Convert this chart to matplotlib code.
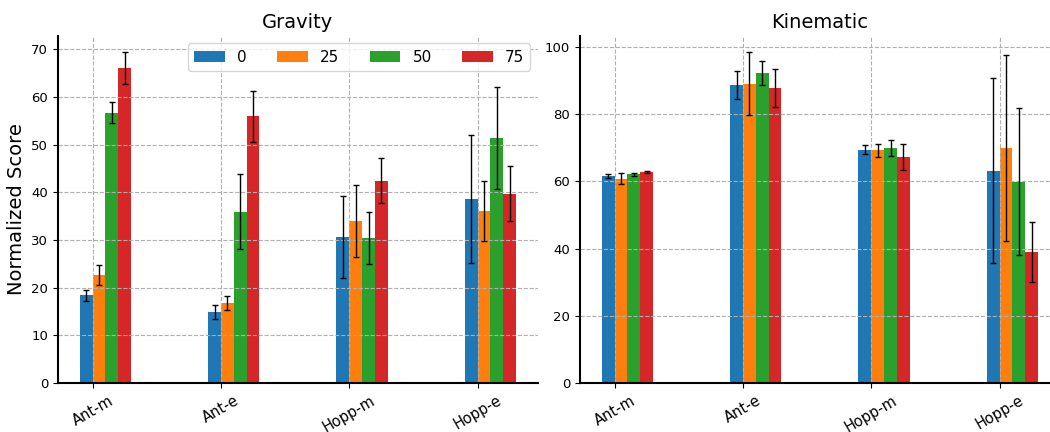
import numpy as np
import matplotlib
matplotlib.use("Agg")
import matplotlib.pyplot as plt

tasks = ["Ant-m", "Ant-e", "Hopp-m", "Hopp-e"]
levels = ["0", "25", "50", "75"]
colors = ["#1f77b4", "#ff7f0e", "#2ca02c", "#d62728"]

# rows = levels, cols = tasks
gravity_mean = [[18.4, 14.9, 30.6, 38.6],
                [22.7, 16.8, 34.0, 36.1],
                [56.7, 35.9, 30.4, 51.3],
                [66.0, 55.9, 42.4, 39.7]]
gravity_std = [[1.2, 1.45, 8.6, 13.35],
               [2.1, 1.5, 7.55, 6.35],
               [2.2, 7.85, 5.5, 10.7],
               [3.3, 5.3, 4.75, 5.75]]

kinematic_mean = [[61.6, 88.6, 69.3, 63.1],
                  [60.7, 88.9, 69.2, 69.9],
                  [62.0, 92.2, 69.9, 59.9],
                  [62.8, 87.7, 67.2, 39.0]]
kinematic_std = [[0.6, 4.2, 1.3, 27.4],
                 [1.6, 9.35, 1.95, 27.7],
                 [0.55, 3.5, 2.35, 21.85],
                 [0.35, 5.7, 3.9, 8.8]]


def draw(ax, mean, std, title, legend=False):
    x = np.arange(len(tasks))
    w = 0.1
    for i, lv in enumerate(levels):
        ax.bar(x + (i - 0.5) * w, mean[i], w, yerr=std[i], color=colors[i],
               label=lv, capsize=2, error_kw=dict(elinewidth=1, capthick=1, ecolor="black"))
    ax.set_xticks(x)
    ax.set_xticklabels(tasks, rotation=30, fontsize=10.5)
    ax.tick_params(axis="y", labelsize=9.5)
    ax.set_title(title, fontsize=14)
    ax.grid(True, linestyle="--", color="#b0b0b0", linewidth=0.8)
    ax.spines["top"].set_visible(False)
    ax.spines["right"].set_visible(False)
    ax.spines["left"].set_linewidth(1.5)
    ax.spines["bottom"].set_linewidth(1.5)
    if legend:
        ax.legend(loc="upper right", ncol=4, fontsize=11)


fig, axes = plt.subplots(1, 2, figsize=(10.5, 4.32), dpi=100)
draw(axes[0], gravity_mean, gravity_std, "Gravity", legend=True)
draw(axes[1], kinematic_mean, kinematic_std, "Kinematic")
axes[0].set_ylabel("Normalized Score", fontsize=14)
fig.subplots_adjust(left=0.0552, right=1.0095, top=0.917, bottom=0.113, wspace=0.0875)
fig.savefig("out.png")
